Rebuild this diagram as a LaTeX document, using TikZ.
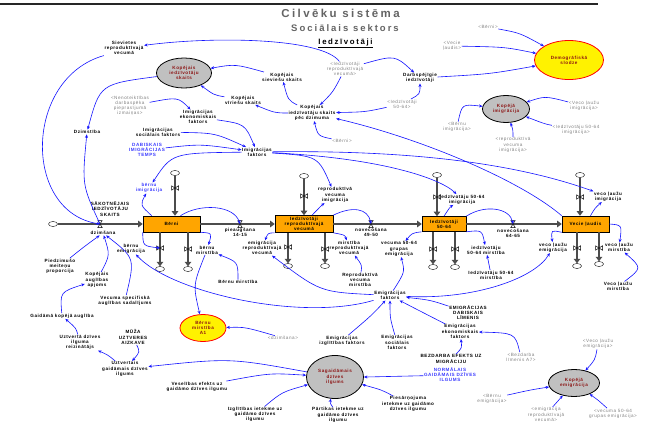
\documentclass[tikz,border=0pt]{standalone}
\usepackage{fontspec}
\setmainfont{Liberation Sans}
\newfontfamily\lblf[LetterSpace=12]{Liberation Sans}
\newfontfamily\ttlf[LetterSpace=21]{Liberation Sans}
\usetikzlibrary{arrows.meta,shapes.geometric}
\definecolor{stockor}{RGB}{255,165,0}
\definecolor{conblue}{RGB}{20,20,255}
\definecolor{cstblue}{RGB}{60,60,255}
\definecolor{shgray}{RGB}{130,130,130}
\definecolor{ellred}{RGB}{140,20,20}
\definecolor{ellgray}{RGB}{192,192,192}
\definecolor{ttlgray}{RGB}{100,100,100}
\begin{document}
\begin{tikzpicture}[x=1pt,y=-1pt,
  lbl/.style={align=center,inner sep=0.5pt,font=\lblf\fontsize{4.6}{5.2}\selectfont\bfseries,text=black},
  shadow/.style={lbl,font=\lblf\fontsize{4.6}{5.2}\selectfont,text=shgray},
  const/.style={lbl,text=cstblue},
  stock/.style={lbl,draw=black,line width=0.6pt,fill=stockor,inner sep=0pt},
  grayell/.style={lbl,ellipse,draw=black,line width=0.8pt,fill=ellgray,text=ellred,inner sep=0pt},
  yelell/.style={lbl,ellipse,draw=red,line width=0.8pt,fill=yellow,text=ellred,inner sep=0pt},
  cloud/.style={ellipse,draw=black,line width=0.4pt,fill=white,minimum width=9pt,minimum height=5pt,inner sep=0pt},
  pipe/.style={draw=black!70,line width=2.4pt,-{Triangle[length=4.5pt,width=6.5pt]}},
  conn/.style={draw=conblue,line width=0.6pt,-{Stealth[length=3.5pt,width=3pt]}},
  vvalve/.pic={\draw[fill=white,line width=0.5pt] (-3.5,-2.2)--(-3.5,2.2)--(3.5,-2.2)--(3.5,2.2)--cycle;},
  hvalve/.pic={\draw[fill=white,line width=0.5pt] (-2.2,-3.5)--(2.2,-3.5)--(-2.2,3.5)--(2.2,3.5)--cycle;}
]
\fill[white] (0,0) rectangle (651,423);
\useasboundingbox (0,0) rectangle (651,423);

% header
\draw[line width=1.3pt,black!85] (0,4) -- (598,4);
\node[font=\ttlf\fontsize{11.5}{12}\selectfont\bfseries,text=ttlgray] (ttl) at (340.5,13) {Cilvēku sistēma};
\node[font=\ttlf\fontsize{9.5}{10}\selectfont\bfseries,text=ttlgray] (sub) at (345,28) {Sociālais sektors};
\node[font=\ttlf\fontsize{7.8}{8}\selectfont\bfseries] (sect) at (345.5,43) {\underline{Iedzīvotāji}};

% top: population totals and dependency ratio
\node[lbl] (sieviet) at (124,48) {Sievietes\\reproduktīvajā\\vecumā};
\node[grayell,minimum width=55pt,minimum height=30pt] (kopiedz) at (184,73) {Kopējais\\iedzīvotāju\\skaits};
\node[lbl] (kopsiev) at (282,77) {Kopējais\\sieviešu skaits};
\node[lbl] (kopvir) at (243,100) {Kopējais\\vīriešu skaits};
\node[lbl] (kopdzim) at (312,113) {Kopējais\\iedzīvotāju skaits\\pēc dzimuma};
\node[shadow] (shIedzRepr) at (345,69) {<Iedzīvotāji\\reproduktīvajā\\vecumā>};
\node[lbl] (darbsp) at (420,78) {Darbspējīgie\\iedzīvotāji};
\node[shadow] (shVecie) at (452,46) {<Vecie\\ļaudis>};
\node[shadow] (shBerni1) at (488,27) {<Bērni>};
\node[yelell,minimum width=69pt,minimum height=39pt] (demogr) at (569,60) {Demogrāfiskā\\slodze};
\node[shadow] (sh5064) at (402,104) {<Iedzīvotāji\\50-64>};
\node[shadow] (shBernuImig) at (457,127) {<Bērnu\\imigrācija>};
\node[grayell,minimum width=47pt,minimum height=27pt] (kopimig) at (506,109) {Kopējā\\imigrācija};
\node[shadow] (shVecoImig) at (584,106) {<Veco ļaužu\\imigrācija>};
\node[shadow] (sh5064Imig) at (576,130) {<Iedzīvotāju 50-64\\imigrācija>};
\node[shadow] (shReprImig) at (513,145) {<reproduktīvā\\vecuma\\imigrācija>};
\node[shadow] (shBerni2) at (342,141) {<Bērni>};

% immigration
\node[shadow] (nenot) at (130,106) {<Nenoteiktības\\darbaspēka\\pieprasījumā\\izmaiņas>};
\node[lbl] (dzimst) at (87,132) {Dzimstība};
\node[lbl] (imigEk) at (198,117) {Imigrācijas\\ekonomiskais\\faktors};
\node[lbl] (imigSoc) at (158,132) {Imigrācijas\\sociālais faktors};
\node[const] (dabImig) at (147,150) {DABISKAIS\\IMIGRĀCIJAS\\TEMPS};
\node[lbl] (imigFakt) at (257,152) {Imigrācijas\\faktors};
\node[const] (bernuImig) at (149,188) {bērnu\\imigrācija};
\node[lbl] (sakotn) at (110,209) {SĀKOTNĒJAIS\\IEDZĪVOTĀJU\\SKAITS};

% stocks
\node[stock,minimum width=57pt,minimum height=16pt] (berniBox) at (171.5,224) {Bērni};
\node[stock,minimum width=58pt,minimum height=17pt] (reprBox) at (304,224) {Iedzīvotāji\\reproduktīvajā\\vecumā};
\node[stock,minimum width=44pt,minimum height=15pt] (box5064) at (444,224) {Iedzīvotāji\\50-64};
\node[stock,minimum width=47pt,minimum height=16pt] (vecieBox) at (585.5,224) {Vecie ļaudis};

% clouds
\node[cloud] (c0) at (53,224) {};
\node[cloud] (cBI) at (175,173) {};
\node[cloud] (cRI) at (304,176) {};
\node[cloud] (c5I) at (437,175) {};
\node[cloud] (cVI) at (580,175) {};
\node[cloud] (cBE) at (160,269) {};
\node[cloud] (cBM) at (188,269) {};
\node[cloud] (cRE) at (288,266) {};
\node[cloud] (cRM) at (325,266) {};
\node[cloud] (c5E) at (433,267) {};
\node[cloud] (c5M) at (455,267) {};
\node[cloud] (cVE) at (577,266) {};
\node[cloud] (cVM) at (599,264) {};

% valves
\coordinate (vD) at (100,224);
\coordinate (vP1) at (240,224);
\coordinate (vN1) at (371,224);
\coordinate (vN2) at (513,224);
\coordinate (vBI) at (175,188);
\coordinate (vRI) at (304,196);
\coordinate (v5I) at (437,197);
\coordinate (vVI) at (580,197);
\coordinate (vBE) at (160,248);
\coordinate (vBM) at (188,249);
\coordinate (vRE) at (288,247);
\coordinate (vRM) at (325,249);
\coordinate (v5E) at (433,249);
\coordinate (v5M) at (455,249);
\coordinate (vVE) at (577,248);
\coordinate (vVM) at (599,248);

% pipes
\draw[pipe] (c0) -- (berniBox);
\draw[pipe] (berniBox) -- (reprBox);
\draw[pipe] (reprBox) -- (box5064);
\draw[pipe] (box5064) -- (vecieBox);
\draw[pipe] (cBI) -- (cBI |- berniBox.north);
\draw[pipe] (cRI) -- (cRI |- reprBox.north);
\draw[pipe] (c5I) -- (c5I |- box5064.north);
\draw[pipe] (cVI) -- (cVI |- vecieBox.north);
\draw[pipe] (berniBox.south -| cBE) -- (cBE);
\draw[pipe] (berniBox.south -| cBM) -- (cBM);
\draw[pipe] (reprBox.south -| cRE) -- (cRE);
\draw[pipe] (reprBox.south -| cRM) -- (cRM);
\draw[pipe] (box5064.south -| c5E) -- (c5E);
\draw[pipe] (box5064.south -| c5M) -- (c5M);
\draw[pipe] (vecieBox.south -| cVE) -- (cVE);
\draw[pipe] (vecieBox.south -| cVM) -- (cVM);
\foreach \v in {vD,vP1,vN1,vN2} \pic at (\v) {hvalve};
\foreach \v in {vBI,vRI,v5I,vVI,vBE,vBM,vRE,vRM,v5E,v5M,vVE,vVM} \pic at (\v) {vvalve};

% flow names
\node[lbl] (dzimsana) at (103,233) {dzimšana};
\node[lbl] (piaug) at (240,232) {pieaugšana\\14-15};
\node[lbl] (novec1) at (371,232) {novecošana\\49-50};
\node[lbl] (novec2) at (513,233.5) {novecošana\\64-65};
\node[lbl] (bernuEmig) at (131,249) {bērnu\\emigrācija};
\node[lbl] (bernuMirst) at (207,250) {bērnu\\mirstība};
\node[lbl] (emigRepr) at (262,248) {emigrācija\\reproduktīvajā\\vecumā};
\node[lbl] (mirstRepr) at (349,248) {mirstība\\reproduktīvajā\\vecumā};
\node[lbl] (reprImig) at (335,195) {reproduktīvā\\vecuma\\imigrācija};
\node[lbl] (imig5064) at (462,199.5) {iedzīvotāju 50-64\\imigrācija};
\node[lbl] (emig5064) at (399,249) {vecuma 50-64\\grupas\\emigrācija};
\node[lbl] (mirst5064) at (486,250) {iedzīvotāju\\50-64 mirstība};
\node[lbl] (vecoImig) at (608,196.5) {veco ļaužu\\imigrācija};
\node[lbl] (vecoEmig) at (553,247.5) {veco ļaužu\\emigrācija};
\node[lbl] (vecoMirst) at (619,247.5) {veco ļaužu\\mirstība};

% mortality inputs
\node[lbl] (mirst5064rate) at (491,275) {Iedzīvotāju 50-64\\mirstība};
\node[lbl] (vecoMirstRate) at (618,286.5) {Veco ļaužu\\mirstība};
\node[lbl] (bernuMirstRate) at (238,282) {Bērnu mirstība};
\node[lbl] (reprMirstRate) at (360,280) {Reproduktīvā\\vecuma\\mirstība};

% emigration
\node[lbl] (emigFakt) at (390,295.5) {Emigrācijas\\faktors};
\node[lbl] (emigDab) at (468,312.5) {EMIGRĀCIJAS\\DABISKAIS\\LĪMENIS};
\node[lbl] (emigEk) at (460,331.5) {Emigrācijas\\ekonomiskais\\faktors};
\node[lbl] (emigSoc) at (397,342.5) {Emigrācijas\\sociālais\\faktors};
\node[lbl] (emigIzgl) at (342,340.5) {Emigrācijas\\izglītības faktors};
\node[lbl] (bezd) at (451,359) {BEZDARBA EFEKTS UZ\\MIGRĀCIJU};
\node[shadow] (shBezd) at (521,357) {<Bezdarba\\līmenis A7>};
\node[shadow] (shVecoEmig) at (598,344) {<Veco ļaužu\\emigrācija>};
\node[grayell,minimum width=51pt,minimum height=27pt] (kopemig) at (574,383) {Kopējā\\emigrācija};
\node[shadow] (shBernuEmig) at (492,398.5) {<Bērnu\\emigrācija>};
\node[shadow] (shEmigRepr) at (546,414.5) {<emigrācija\\reproduktīvajā\\vecumā>};
\node[shadow] (shEmig5064) at (613,413.5) {<vecuma 50-64\\grupas emigrācija>};

% life expectancy
\node[const] (normGaid) at (450,374.5) {NORMĀLAIS\\GAIDĀMAIS DZĪVES\\ILGUMS};
\node[grayell,minimum width=57pt,minimum height=43pt] (sagaid) at (335,377) {Sagaidāmais\\dzīves\\ilgums};
\node[lbl] (piesarn) at (408,404) {Piesārņojuma\\ietekme uz gaidāmo\\dzīves ilgumu};
\node[lbl] (partik) at (338,415) {Pārtikas ietekme uz\\gaidāmo dzīves\\ilgumu};
\node[lbl] (izgl) at (255,414.5) {Izglītības ietekme uz\\gaidāmo dzīves\\ilgumu};
\node[lbl] (veselib) at (197,386.5) {Veselības efekts uz\\gaidāmo dzīves ilgumu};
\node[shadow] (shDzims) at (283,338) {<dzimšana>};
\node[yelell,minimum width=46pt,minimum height=27pt] (bernuMirstA1) at (203,328) {Bērnu\\mirstība\\A1};
\node[lbl] (uztv) at (125,369) {Uztvertais\\gaidāmais dzīves\\ilgums};
\node[lbl] (muza) at (133,337) {MŪŽA\\UZTVERES\\AIZKAVE};
\node[lbl] (uztvReiz) at (80,342.5) {Uztvertā dzīves\\ilguma\\reizinātājs};
\node[lbl] (gaidAug) at (62,316) {Gaidāmā kopējā auglība};
\node[lbl] (kopAug) at (97,280) {Kopējais\\auglības\\apjoms};
\node[lbl] (vecSpec) at (125,300.5) {Vecuma specifiskā\\auglības sadalījums};
\node[lbl] (piedz) at (60,266) {Piedzimušo\\meiteņu\\proporcija};

% connectors: totals
\draw[conn] (shIedzRepr) .. controls (322,38) and (215,36) .. (sieviet);
\draw[conn] (shIedzRepr) .. controls (395,55) .. (darbsp);
\draw[conn] (shIedzRepr) .. controls (333,92) .. (kopdzim);
\draw[conn] (sh5064) .. controls (365,112) .. (kopdzim);
\draw[conn] (sh5064) .. controls (420,94) .. (darbsp);
\draw[conn] (shBerni2) .. controls (318,136) .. (kopdzim);
\draw[conn] (vecieBox.north west) .. controls (520,180) and (420,138) .. (kopdzim);
\draw[conn] (kopdzim) .. controls (288,100) .. (kopsiev);
\draw[conn] (kopdzim) .. controls (275,113) .. (kopvir);
\draw[conn] (kopsiev) .. controls (235,64) .. (kopiedz);
\draw[conn] (kopvir) .. controls (214,95) .. (kopiedz);
\draw[conn] (shBerni1) .. controls (520,33) .. (demogr);
\draw[conn] (shVecie) .. controls (505,47) .. (demogr);
\draw[conn] (darbsp) .. controls (490,74) .. (demogr);
\draw[conn] (shBernuImig) .. controls (462,104) .. (kopimig);
\draw[conn] (shVecoImig) .. controls (545,96) .. (kopimig);
\draw[conn] (sh5064Imig) .. controls (545,124) .. (kopimig);
\draw[conn] (shReprImig) .. controls (513,130) .. (kopimig);

% connectors: births and immigration
\draw[conn] (kopiedz) .. controls (100,84) .. (dzimst);
\draw[conn] (nenot) .. controls (178,97) .. (imigEk);
\draw[conn] (imigEk) .. controls (245,124) .. (imigFakt);
\draw[conn] (imigSoc) .. controls (215,133) .. (imigFakt);
\draw[conn] (dabImig) .. controls (200,144) .. (imigFakt);
\draw[conn] (imigFakt) .. controls (172,153) .. (bernuImig);
\draw[conn] (imigFakt) .. controls (318,156) .. (reprImig);
\draw[conn] (imigFakt) .. controls (380,158) and (440,178) .. (imig5064);
\draw[conn] (imigFakt) .. controls (420,150) and (520,165) .. (vecoImig);
\draw[conn] ([xshift=9pt]berniBox.north west) .. controls (140,205) .. (bernuImig);
\draw[conn] (sieviet.south west) .. controls (24,78) and (22,212) .. (vD);
\draw[conn] (vD) .. controls (82,185) .. (dzimst);
\draw[conn] (piedz) .. controls (85,246) .. (dzimsana);
\draw[conn] (kopAug) .. controls (110,255) .. (dzimsana);
\draw[conn] (vecSpec) .. controls (135,258) .. (dzimsana);
\draw[conn] (gaidAug) .. controls (60,292) .. (kopAug);
\draw[conn] (uztvReiz) .. controls (76,328) .. (gaidAug);
\draw[conn] (uztv) .. controls (108,355) .. (uztvReiz);
\draw[conn] (muza) .. controls (140,352) .. (uztv);
\draw[conn] (sagaid) .. controls (230,358) .. (uztv);
\draw[conn] (veselib) .. controls (270,373) .. (sagaid);
\draw[conn] (izgl) .. controls (282,392) .. (sagaid);
\draw[conn] (partik) .. controls (330,403) .. (sagaid);
\draw[conn] (piesarn) .. controls (382,390) .. (sagaid);
\draw[conn] (normGaid) .. controls (395,377) .. (sagaid);

% connectors: emigration
\draw[conn] (bezd) .. controls (462,348) .. (emigEk);
\draw[conn] (shBezd) .. controls (515,333) .. (emigEk);
\draw[conn] (emigDab) .. controls (430,300) .. (emigFakt);
\draw[conn] (emigEk) .. controls (418,310) .. (emigFakt);
\draw[conn] (emigSoc) .. controls (390,318) .. (emigFakt);
\draw[conn] (emigIzgl) .. controls (372,315) .. (emigFakt);
\draw[conn] (emigFakt) .. controls (300,322) and (170,292) .. (bernuEmig);
\draw[conn] (emigFakt) .. controls (320,292) .. (emigRepr);
\draw[conn] (emigFakt) .. controls (405,272) .. (emig5064);
\draw[conn] (emigFakt) .. controls (475,300) and (535,278) .. (vecoEmig);
\draw[conn] (shVecoEmig) .. controls (595,360) .. (kopemig);
\draw[conn] (shBernuEmig) .. controls (530,390) .. (kopemig);
\draw[conn] (shEmigRepr) .. controls (557,402) .. (kopemig);
\draw[conn] (shEmig5064) .. controls (598,400) .. (kopemig);

% connectors: mortality
\draw[conn] (shDzims) .. controls (245,327) .. (bernuMirstA1);
\draw[conn] (bernuMirst) .. controls (193,285) .. (bernuMirstA1);
\draw[conn] (bernuMirstRate) .. controls (238,262) .. (bernuMirst);
\draw[conn] (reprMirstRate) .. controls (362,265) .. (mirstRepr);
\draw[conn] (mirst5064rate) .. controls (489,264) .. (mirst5064);
\draw[conn] (vecoMirstRate) .. controls (642,268) .. (vecoMirst);

% connectors: stocks to flows
\draw[conn] (berniBox.south east) .. controls (212,233) .. (bernuMirst);
\draw[conn] (berniBox.south west) .. controls (143,246) .. (vBE);
\draw[conn] ([xshift=9pt]berniBox.north) .. controls (200,203) and (234,205) .. (vP1);
\draw[conn] (reprBox.south west) .. controls (268,233) .. (emigRepr);
\draw[conn] ([xshift=8pt]reprBox.north) .. controls (322,205) .. (reprImig);
\draw[conn] (reprBox.north east) .. controls (352,206) and (368,208) .. (vN1);
\draw[conn] (reprBox.south east) .. controls (345,235) .. (mirstRepr);
\draw[conn] (box5064.south west) .. controls (412,233) .. (emig5064);
\draw[conn] (box5064.north) .. controls (450,207) .. (imig5064);
\draw[conn] (box5064.north east) .. controls (485,204) and (510,208) .. (vN2);
\draw[conn] (box5064.south east) .. controls (482,230) .. (mirst5064);
\draw[conn] ([xshift=5pt]vecieBox.north) .. controls (595,208) .. (vecoImig);
\draw[conn] (vecieBox.south west) .. controls (551,230) .. (vecoEmig);
\draw[conn] (vecieBox.east) .. controls (622,225) .. (vecoMirst);
\end{tikzpicture}
\end{document}
